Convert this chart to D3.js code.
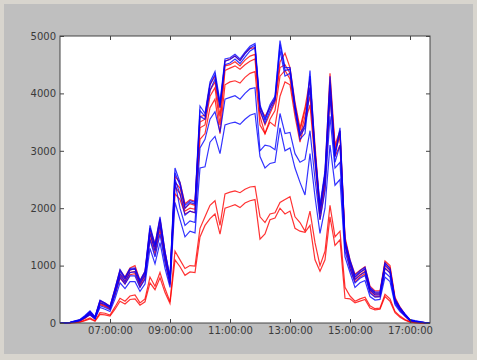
<!DOCTYPE html>
<html>
<head>
<meta charset="utf-8">
<script src="https://cdn.jsdelivr.net/npm/d3@7"></script>
<style>
  body { margin: 0; background: #d8d5ce; }
  svg { display: block; }
  .tick text { font-family: "DejaVu Sans", sans-serif; font-size: 10px; fill: #3a3a3a; }
  .tick line { stroke: #444; }
</style>
</head>
<body>
<svg width="477" height="360"></svg>
<script>
// Sample times (every 10 minutes).
var times = ["05:20","05:30","05:40","05:50","06:00","06:10","06:20","06:30","06:40","06:50",
  "07:00","07:10","07:20","07:30","07:40","07:50","08:00","08:10","08:20","08:30",
  "08:40","08:50","09:00","09:10","09:20","09:30","09:40","09:50","10:00","10:10",
  "10:20","10:30","10:40","10:50","11:00","11:10","11:20","11:30","11:40","11:50",
  "12:00","12:10","12:20","12:30","12:40","12:50","13:00","13:10","13:20","13:30",
  "13:40","13:50","14:00","14:10","14:20","14:30","14:40","14:50","15:00","15:10",
  "15:20","15:30","15:40","15:50","16:00","16:10","16:20","16:30","16:40","16:50",
  "17:00","17:10","17:20","17:30","17:40"];

var xTickLabels = ["07:00:00", "09:00:00", "11:00:00", "13:00:00", "15:00:00", "17:00:00"];
var yTickValues = [0, 1000, 2000, 3000, 4000, 5000];

// Red series.
var red1 = [0,0,5,30,50, 110,190,100,390,350, 290,600,920,800,960, 1000,740,900,1650,1380,
  1820,1250,780,2550,2450, 2080,2150,2120,3600,3620, 4150,4300,3750,4560,4600, 4650,4570,4700,4780,4800,
  3750,3600,3750,3900,4550, 4700,4450,3850,3400,3750, 4250,3100,2000,2600,4350, 3100,3350,1500,1100,850,
  920,980,640,560,560, 1080,1000,450,280,150, 50,30,15,5,0];
var red2 = [0,0,5,25,45, 100,170,90,360,320, 270,560,860,760,920, 950,700,860,1600,1320,
  1760,1200,740,2450,2350, 2000,2080,2050,3500,3550, 4050,4200,3600,4480,4500, 4550,4480,4580,4650,4680,
  3700,3450,3650,3850,4450, 4500,4350,3780,3350,3700, 4100,3000,1950,2500,4200, 3050,3300,1450,1050,800,
  880,940,600,520,520, 1050,960,420,260,140, 45,25,10,5,0];
var red3 = [0,0,5,20,40, 90,160,80,340,300, 250,530,820,720,880, 900,660,820,1550,1270,
  1700,1150,700,2380,2250, 1950,2000,1980,3400,3450, 3950,4100,3450,4400,4440, 4480,4420,4500,4560,4600,
  3600,3300,3550,3700,4300, 4400,4250,3700,3250,3600, 3950,2950,1900,2450,4100, 3000,3250,1400,1000,760,
  840,900,570,490,490, 1000,920,400,240,130, 40,20,10,0,0];
var red4 = [0,0,5,20,35, 80,150,70,320,290, 240,500,780,680,840, 860,630,780,1480,1200,
  1620,1100,660,2250,2150, 1900,1950,1920,3200,3300, 3750,3900,3300,4150,4200, 4220,4180,4280,4350,4380,
  3450,3300,3500,3430,3950, 4200,4150,3600,3150,3500, 3800,2800,1800,2350,3950, 2900,3100,1350,950,720,
  800,860,540,460,460, 950,880,380,230,120, 35,15,5,0,0];
var red5 = [0,0,0,10,20, 50,90,40,180,170, 140,280,430,380,470, 490,350,420,800,640,
  880,600,370,1250,1100, 950,1000,990,1650,1850, 2050,2130,1700,2250,2280, 2300,2270,2330,2370,2380,
  1850,1750,1900,1920,2100, 2150,2200,1850,1750,1600, 1950,1400,1000,1250,2050, 1500,1600,620,470,380,
  420,450,300,250,260, 500,420,200,120,60, 20,5,0,0,0];
var red6 = [0,0,0,5,15, 40,70,30,150,140, 120,240,380,330,410, 420,310,370,700,580,
  790,530,340,1100,980, 830,890,880,1500,1700, 1820,1900,1550,2000,2030, 2060,2010,2090,2130,2150,
  1460,1550,1800,1830,2000, 1900,1950,1650,1600,1580, 1700,1100,900,1100,1850, 1350,1450,430,420,350,
  380,410,260,230,240, 460,380,180,100,50, 15,5,0,0,0];

// Blue series.
var blue1 = [0,0,10,40,60, 130,210,110,400,350, 290,600,930,790,950, 960,740,900,1700,1360,
  1850,1250,800,2700,2450, 2050,2130,2100,3780,3650, 4200,4380,3850,4600,4620, 4680,4600,4720,4820,4870,
  3800,3560,3800,3950,4920, 4450,4450,3800,3300,3450, 4400,3000,2050,2650,4300, 2950,3400,1450,1100,830,
  910,970,620,540,540, 1050,950,420,270,160, 60,40,25,5,0];
var blue2 = [0,0,10,35,55, 120,200,100,380,340, 280,580,900,770,930, 940,720,880,1650,1320,
  1800,1220,780,2620,2400, 2000,2100,2070,3700,3600, 4150,4330,3800,4560,4590, 4650,4570,4690,4790,4840,
  3760,3530,3760,3920,4850, 4400,4420,3760,3260,3400, 4300,2950,2000,2600,4150, 2900,3350,1400,1070,800,
  880,940,600,520,520, 1020,920,400,260,150, 55,35,20,5,0];
var blue3 = [0,0,8,30,50, 110,180,90,350,320, 260,550,850,720,880, 890,680,830,1560,1250,
  1700,1150,740,2500,2250, 1880,1950,1920,3600,3550, 4050,4250,3750,4500,4530, 4600,4520,4630,4740,4790,
  3700,3480,3700,3880,4750, 4300,4350,3700,3200,3300, 4100,2850,1900,2500,3950, 2800,3100,1350,1020,760,
  830,890,570,490,490, 960,870,380,250,140, 50,30,15,5,0];
var blue4 = [0,0,5,25,45, 100,160,80,300,270, 230,480,800,680,820, 820,620,760,1450,1150,
  1550,1050,680,2450,2000, 1700,1780,1750,3050,3200, 3550,3680,3320,3900,3930, 3960,3900,4000,4080,4100,
  3000,3100,3080,3020,3650, 3300,3320,2950,2800,2850, 3350,2500,1800,2300,3600, 2700,2800,1250,950,700,
  780,830,520,450,460, 880,800,350,220,130, 45,30,15,5,0];
var blue5 = [0,0,5,20,40, 90,140,70,270,240, 200,420,700,600,720, 720,550,680,1300,1030,
  1400,950,620,2100,1800, 1500,1600,1570,2700,2720, 3150,3250,2950,3450,3480, 3500,3460,3550,3620,3650,
  2900,2700,2780,2800,3400, 3000,3050,2700,2450,2230, 2950,2200,1560,2000,3100, 2400,2500,1150,880,620,
  700,740,460,400,410, 800,720,320,200,120, 40,25,10,5,0];

var redSeries = [red1, red2, red3, red4, red5, red6];
var blueSeries = [blue1, blue2, blue3, blue4, blue5];

var svg = d3.select("svg");
var parse = d3.timeParse("%H:%M");
var parseTick = d3.timeParse("%H:%M:%S");
var dates = times.map(parse);

// Plot box (pixels).
var plotLeft = 60, plotRight = 430, plotTop = 36, plotBottom = 323;

var x = d3.scaleTime().domain([parse("05:20"), parse("17:40")]).range([plotLeft, plotRight]);
var y = d3.scaleLinear().domain([0, 5000]).range([plotBottom, plotTop]);

// Background: light frame and grey figure.
svg.append("rect").attr("width", 477).attr("height", 360).attr("fill", "#d8d5ce");
svg.append("rect").attr("x", 4).attr("y", 4).attr("width", 469).attr("height", 350).attr("fill", "#bfbfbf");
svg.append("rect").attr("x", plotLeft).attr("y", plotTop)
    .attr("width", plotRight - plotLeft).attr("height", plotBottom - plotTop).attr("fill", "#fff");

var line = d3.line()
    .x(function (d, i) { return x(dates[i]); })
    .y(function (d) { return y(d); });

var plot = svg.append("g");

plot.selectAll(".red").data(redSeries).enter().append("path")
    .attr("class", "red")
    .attr("d", line)
    .attr("fill", "none")
    .attr("stroke", "#ff0000")
    .attr("stroke-opacity", 0.8)
    .attr("stroke-width", 1.2);

plot.selectAll(".blue").data(blueSeries).enter().append("path")
    .attr("class", "blue")
    .attr("d", line)
    .attr("fill", "none")
    .attr("stroke", "#0000ff")
    .attr("stroke-opacity", 0.8)
    .attr("stroke-width", 1.2);

// Axes with inward ticks on all sides.
var xTicks = xTickLabels.map(parseTick);
var noDomain = function (g) { g.select(".domain").remove(); };

svg.append("g").attr("transform", "translate(0," + plotBottom + ")")
    .call(d3.axisBottom(x).tickValues(xTicks).tickFormat(d3.timeFormat("%H:%M:%S"))
        .tickSizeInner(-4).tickSizeOuter(0).tickPadding(4))
    .call(noDomain);
svg.append("g").attr("transform", "translate(0," + plotTop + ")")
    .call(d3.axisTop(x).tickValues(xTicks).tickFormat("").tickSizeInner(-4).tickSizeOuter(0))
    .call(noDomain);
svg.append("g").attr("transform", "translate(" + plotLeft + ",0)")
    .call(d3.axisLeft(y).tickValues(yTickValues).tickFormat(d3.format("d"))
        .tickSizeInner(-4).tickSizeOuter(0).tickPadding(4))
    .call(noDomain);
svg.append("g").attr("transform", "translate(" + plotRight + ",0)")
    .call(d3.axisRight(y).tickValues(yTickValues).tickFormat("").tickSizeInner(-4).tickSizeOuter(0))
    .call(noDomain);

// Frame.
svg.append("rect").attr("x", plotLeft).attr("y", plotTop)
    .attr("width", plotRight - plotLeft).attr("height", plotBottom - plotTop)
    .attr("fill", "none").attr("stroke", "#444").attr("stroke-width", 1);
</script>
</body>
</html>
